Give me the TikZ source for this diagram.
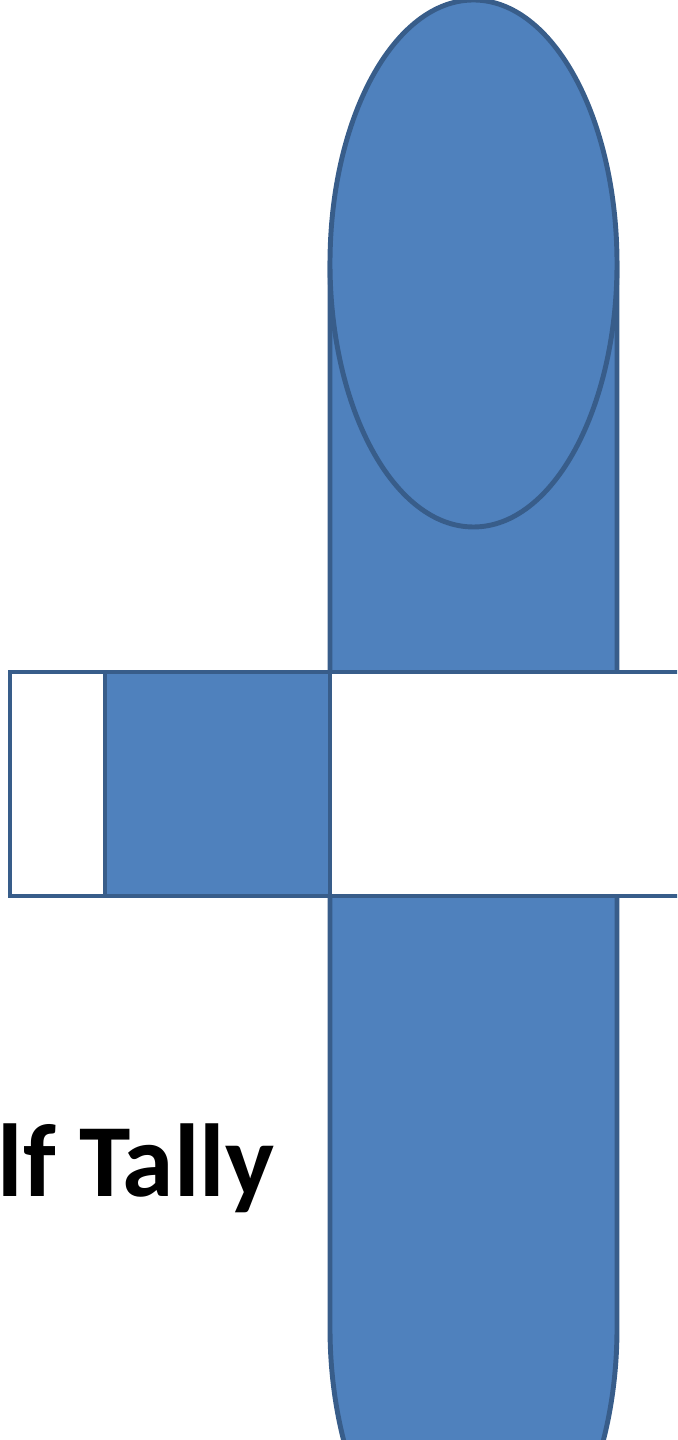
\documentclass[tikz,border=0pt]{standalone}
\usepackage{fontspec}
\setmainfont{Carlito}
\usetikzlibrary{positioning}
\definecolor{tallyfill}{HTML}{4F81BD}
\definecolor{tallyline}{HTML}{385D8A}

\begin{document}
\begin{tikzpicture}[
    part/.style={draw=tallyline, line width=1.4pt, fill=tallyfill},
    cell/.style={rectangle, draw=tallyline, line width=1.4pt, minimum height=2.24cm, inner sep=0pt},
]
    \useasboundingbox (0,0) rectangle (6.77,14.4);
    \clip (0,0) rectangle (6.77,14.4);

    % the stick and its round head
    \draw[part] (3.30,11.77) -- (3.30,1.12)
        arc[start angle=180, end angle=360, x radius=1.435, y radius=2.635]
        -- (6.17,11.77) -- cycle;
    \draw[part] (4.735,11.765) ellipse[x radius=1.435, y radius=2.635];

    % the bar across it
    \node[cell, fill=white, minimum width=0.95cm] (open) at (0.575,6.56) {};
    \node[cell, fill=tallyfill, minimum width=2.25cm] (filled) at (2.175,6.56) {};
    \node[cell, fill=white, minimum width=3.70cm] (rest) at (5.15,6.56) {};

    \node[anchor=base west, inner sep=0pt, font=\bfseries\fontsize{29.5}{35}\selectfont] (label) at (-0.03,2.43) {lf Tally};
\end{tikzpicture}
\end{document}
